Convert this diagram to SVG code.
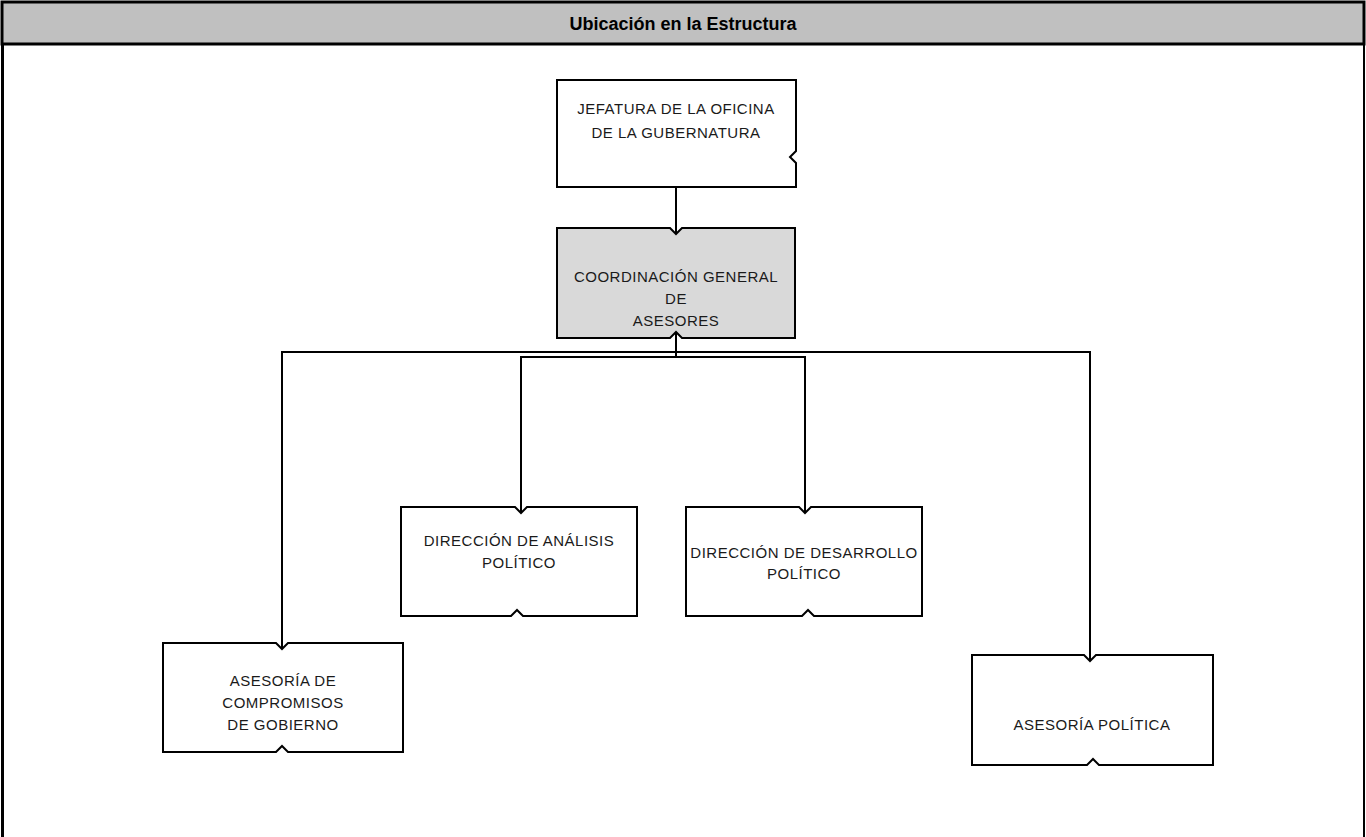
<svg xmlns="http://www.w3.org/2000/svg" width="1366" height="837" viewBox="0 0 1366 837">
<style>
.box{fill:#ffffff;stroke:#000;stroke-width:2}
.gray{fill:#d9d9d9}
.lbl{font-family:"Liberation Sans",Arial,sans-serif;font-size:15px;letter-spacing:0.5px;fill:#1a1a1a;text-anchor:middle}
.conn{fill:none;stroke:#000;stroke-width:2}
.title{font-family:"Liberation Sans",Arial,sans-serif;font-size:18px;font-weight:bold;fill:#000;text-anchor:middle}
</style>
<rect width="1366" height="837" fill="#ffffff"/>
<g id="frame">
<rect x="2" y="2" width="1362" height="42" fill="#c0c0c0" stroke="#000" stroke-width="3"/>
<line x1="2.5" y1="44" x2="2.5" y2="837" stroke="#000" stroke-width="3"/>
<line x1="1364" y1="44" x2="1364" y2="837" stroke="#000" stroke-width="2"/>
<text class="title" x="683" y="30">Ubicación en la Estructura</text>
</g>
<g id="connectors">
<line class="conn" x1="676" y1="187" x2="676" y2="233" stroke-width="2.5"/>
<line class="conn" x1="676" y1="333" x2="676" y2="357"/>
<polyline class="conn" points="282,648 282,352 1090,352 1090,660"/>
<polyline class="conn" points="521,512 521,357 805,357 805,512"/>
</g>
<g id="jefatura">
<path class="box" d="M557 80 H796 V151 L790 157 L796 163 V187 H557 Z"/>
<text class="lbl" x="676" y="114">JEFATURA DE LA OFICINA</text>
<text class="lbl" x="676" y="138">DE LA GUBERNATURA</text>
</g>
<g id="coordinacion">
<path class="box gray" d="M557 228 H670 L676 234 L682 228 H795 V338 H682 L676 332 L670 338 H557 Z"/>
<text class="lbl" x="676" y="282">COORDINACIÓN GENERAL</text>
<text class="lbl" x="676" y="304">DE</text>
<text class="lbl" x="676" y="326">ASESORES</text>
</g>
<g id="analisis">
<path class="box" d="M401 507 H515 L521 513 L527 507 H637 V616 H523 L517 610 L511 616 H401 Z"/>
<text class="lbl" x="519" y="546">DIRECCIÓN DE ANÁLISIS</text>
<text class="lbl" x="519" y="568">POLÍTICO</text>
</g>
<g id="desarrollo">
<path class="box" d="M686 507 H799 L805 513 L811 507 H922 V616 H814 L808 610 L802 616 H686 Z"/>
<text class="lbl" x="804" y="558">DIRECCIÓN DE DESARROLLO</text>
<text class="lbl" x="804" y="579">POLÍTICO</text>
</g>
<g id="compromisos">
<path class="box" d="M163 643 H276 L282 649 L288 643 H403 V752 H288 L282 746 L276 752 H163 Z"/>
<text class="lbl" x="283" y="686">ASESORÍA DE</text>
<text class="lbl" x="283" y="708">COMPROMISOS</text>
<text class="lbl" x="283" y="730">DE GOBIERNO</text>
</g>
<g id="politica">
<path class="box" d="M972 655 H1084 L1090 661 L1096 655 H1213 V765 H1099 L1093 759 L1087 765 H972 Z"/>
<text class="lbl" x="1092" y="730">ASESORÍA POLÍTICA</text>
</g>
</svg>
